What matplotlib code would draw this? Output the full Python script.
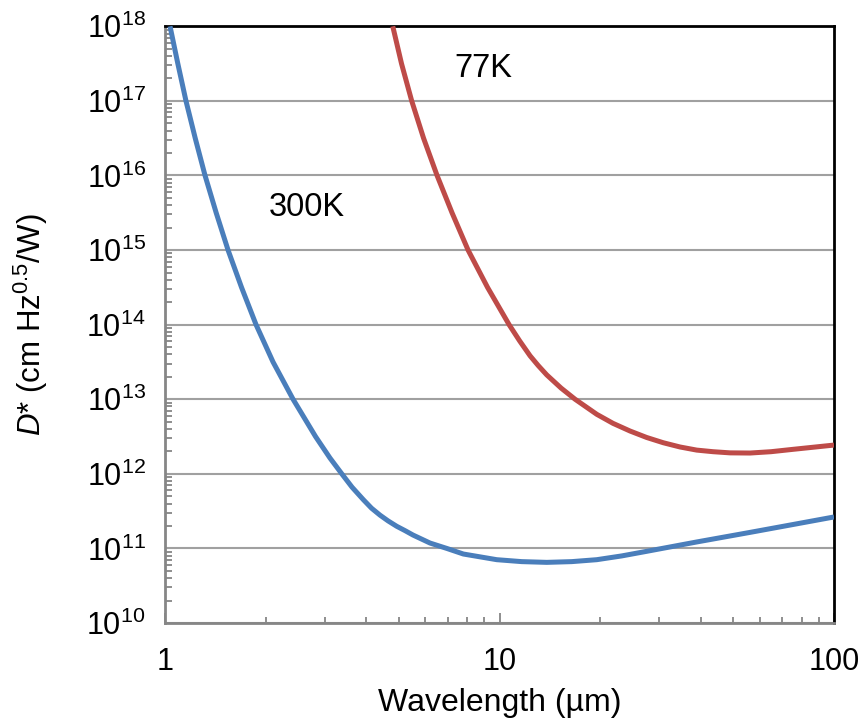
import numpy as np
import matplotlib
matplotlib.use("Agg")
import matplotlib.pyplot as plt
from matplotlib.ticker import LogLocator, LogFormatterSciNotation, NullFormatter

plt.rcParams['font.family'] = ['Liberation Sans', 'DejaVu Sans']
plt.rcParams['mathtext.fontset'] = 'custom'
plt.rcParams['mathtext.rm'] = 'Liberation Sans'
plt.rcParams['mathtext.it'] = 'Liberation Sans:italic'
plt.rcParams['mathtext.default'] = 'regular'

# Detectivity vs. wavelength (µm, cm Hz^0.5/W)
wl_300k = [1.035, 1.092, 1.155, 1.231, 1.317, 1.422, 1.543, 1.693, 1.871, 2.103,
           2.414, 2.818, 3.113, 3.376, 3.623, 3.916, 4.143, 4.393, 4.642, 4.927,
           5.219, 5.513, 6.197, 6.953, 7.795, 9.809, 11.65, 13.84, 16.44, 19.53,
           23.19, 27.54, 38.86, 56.09, 74.9, 100.0]
d_300k = [1e18, 3.16e17, 1e17, 3.16e16, 1e16, 3.16e15, 1e15, 3.16e14, 1e14,
          3.16e13, 1e13, 3.16e12, 1.626e12, 1e12, 6.62e11, 4.50e11, 3.46e11,
          2.79e11, 2.34e11, 1.98e11, 1.73e11, 1.51e11, 1.18e11, 1e11, 8.41e10,
          7.06e10, 6.65e10, 6.50e10, 6.65e10, 7.06e10, 7.93e10, 9.14e10,
          1.22e11, 1.64e11, 2.08e11, 2.64e11]

wl_77k = [4.795, 5.093, 5.463, 5.928, 6.505, 7.211, 8.053, 9.207, 10.68, 11.478,
          12.34, 13.04, 13.84, 15.28, 16.82, 19.53, 21.84, 24.55, 27.54, 30.88,
          34.64, 38.86, 43.47, 48.88, 56.09, 64.81, 75.42, 100.0]
d_77k = [1e18, 3.16e17, 1e17, 3.16e16, 1e16, 3.16e15, 1e15, 3.16e14, 1e14,
         6.08e13, 3.82e13, 2.84e13, 2.12e13, 1.41e13, 1e13, 6.28e12, 4.75e12,
         3.75e12, 3.07e12, 2.61e12, 2.29e12, 2.08e12, 1.98e12, 1.91e12,
         1.90e12, 1.98e12, 2.13e12, 2.43e12]

x_ticks = [1, 10, 100]
x_tick_labels = ['1', '10', '100']

blue = '#4a7ebb'
red = '#be4b48'
grey = '#868686'

fig = plt.figure(figsize=(8.65, 7.25), dpi=100)
ax = fig.add_axes([0.1908, 0.1407, 0.7734, 0.8230])

ax.plot(wl_300k, d_300k, color=blue, lw=3.6, solid_joinstyle='round',
        solid_capstyle='butt', zorder=3)
ax.plot(wl_77k, d_77k, color=red, lw=3.6, solid_joinstyle='round',
        solid_capstyle='butt', zorder=3)

ax.set_xscale('log')
ax.set_yscale('log')
ax.set_xlim(1, 100)
ax.set_ylim(1e10, 1e18)

ax.set_xticks(x_ticks)
ax.set_xticklabels(x_tick_labels)
ax.xaxis.set_minor_locator(LogLocator(base=10, subs=np.arange(2, 10)))
ax.xaxis.set_minor_formatter(NullFormatter())
ax.yaxis.set_major_locator(LogLocator(base=10, numticks=20))
ax.yaxis.set_major_formatter(LogFormatterSciNotation())
ax.yaxis.set_minor_locator(LogLocator(base=10, subs=np.arange(2, 10), numticks=20))
ax.yaxis.set_minor_formatter(NullFormatter())

ax.grid(axis='y', which='major', color='#a0a0a0', lw=1.5, zorder=1)
ax.set_axisbelow(True)

ax.tick_params(axis='both', which='both', direction='in', color=grey,
               labelsize=22, labelcolor='black')
ax.tick_params(axis='x', which='major', length=7, width=1.3, pad=17)
ax.tick_params(axis='x', which='minor', length=4, width=1.3)
ax.tick_params(axis='y', which='major', length=0, pad=14)
ax.tick_params(axis='y', which='minor', length=5, width=1.3)
ax.tick_params(top=False, right=False)

for side in ('left', 'bottom'):
    ax.spines[side].set_color(grey)
    ax.spines[side].set_linewidth(2)
for side in ('top', 'right'):
    ax.spines[side].set_color('black')
    ax.spines[side].set_linewidth(2)

ax.set_xlabel('Wavelength (µm)', fontsize=23, labelpad=8)
ax.set_ylabel(r'$\mathit{D}$* (cm Hz$^{0.5}$/W)', fontsize=22.5, labelpad=26)

ax.text(2.66, 3.7e15, '300K', fontsize=23.5, ha='center', va='center')
ax.text(8.93, 2.75e17, '77K', fontsize=23.5, ha='center', va='center')

fig.savefig('out.png', dpi=100)
